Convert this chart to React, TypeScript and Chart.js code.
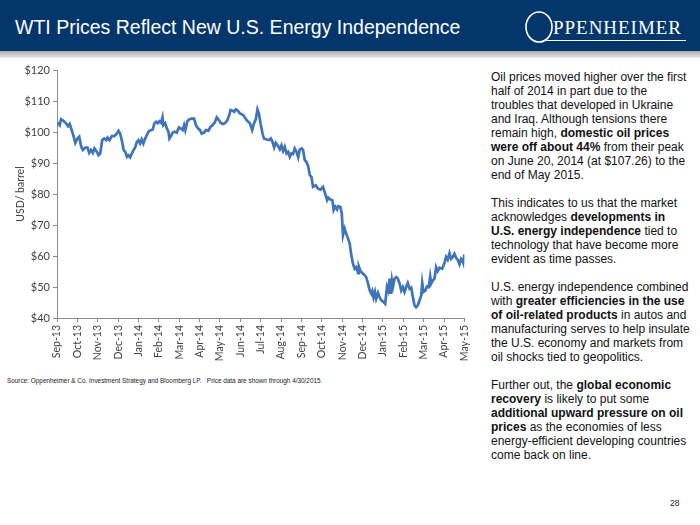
import React, { useEffect, useRef } from "react";
import { Chart, registerables } from "chart.js";

Chart.register(...registerables);

// Month tick labels (axis positions 0..20)
const monthLabels = [
  "Sep-13", "Oct-13", "Nov-13", "Dec-13", "Jan-14", "Feb-14", "Mar-14", "Apr-14",
  "May-14", "Jun-14", "Jul-14", "Aug-14", "Sep-14", "Oct-14", "Nov-14", "Dec-14",
  "Jan-15", "Feb-15", "Mar-15", "Apr-15", "May-15",
];

// Position in months since Sep-2013 (date of each observation)
const monthPos = [
  0.03, 0.13, 0.2, 0.33, 0.44, 0.54, 0.62, 0.69, 0.82, 0.9, 1.01, 1.09, 1.19, 1.27, 1.39, 1.5,
  1.58, 1.67, 1.76, 1.84, 1.96, 2.04, 2.12, 2.22, 2.32, 2.42, 2.48, 2.58, 2.69, 2.81, 2.91,
  3.02, 3.1, 3.18, 3.27, 3.35, 3.43, 3.51, 3.59, 3.67, 3.76, 3.84, 3.92, 4.0, 4.08, 4.16,
  4.24, 4.33, 4.41, 4.49, 4.6, 4.7, 4.78, 4.87, 4.95, 5.03, 5.11, 5.18, 5.22, 5.31, 5.39,
  5.47, 5.52, 5.58, 5.68, 5.78, 5.88, 5.99, 6.07, 6.17, 6.24, 6.3, 6.4, 6.5, 6.61, 6.73,
  6.82, 6.92, 7.02, 7.1, 7.22, 7.31, 7.43, 7.54, 7.64, 7.76, 7.84, 7.92, 8.03, 8.13, 8.24,
  8.36, 8.46, 8.52, 8.62, 8.7, 8.78, 8.87, 8.98, 9.14, 9.31, 9.47, 9.58, 9.67, 9.76, 9.84,
  9.91, 9.99, 10.09, 10.16, 10.29, 10.42, 10.5, 10.58, 10.66, 10.74, 10.86, 10.94, 11.02,
  11.1, 11.18, 11.27, 11.35, 11.43, 11.51, 11.59, 11.67, 11.76, 11.84, 11.92, 12.02, 12.08,
  12.16, 12.24, 12.33, 12.41, 12.49, 12.57, 12.7, 12.82, 12.93, 13.06, 13.14, 13.26, 13.32,
  13.42, 13.52, 13.58, 13.66, 13.75, 13.81, 13.91, 13.98, 14.04, 14.12, 14.2, 14.29, 14.37,
  14.45, 14.53, 14.61, 14.69, 14.78, 14.82, 14.89, 14.99, 15.1, 15.18, 15.27, 15.35, 15.43,
  15.48, 15.54, 15.61, 15.67, 15.76, 15.84, 15.92, 16.03, 16.11, 16.2, 16.26, 16.33, 16.38,
  16.44, 16.49, 16.57, 16.65, 16.73, 16.82, 16.9, 16.98, 17.06, 17.14, 17.22, 17.31, 17.39,
  17.47, 17.55, 17.63, 17.71, 17.8, 17.88, 17.93, 17.99, 18.09, 18.16, 18.25, 18.32, 18.37,
  18.45, 18.53, 18.61, 18.69, 18.78, 18.91, 19.02, 19.1, 19.18, 19.27, 19.35, 19.43, 19.51,
  19.59, 19.67, 19.76, 19.84, 19.9, 19.95, 20.0,
];

// WTI price, USD per barrel
const prices = [
  103.0, 102.2, 104.1, 103.5, 102.8, 101.9, 102.6, 101.2, 98.5, 96.5, 98.0, 98.5, 95.2, 94.2,
  95.0, 95.0, 93.3, 94.2, 93.3, 94.7, 93.6, 92.5, 93.0, 97.4, 97.9, 97.4, 98.2, 97.4, 98.7,
  98.7, 99.3, 100.4, 99.5, 97.4, 94.2, 93.6, 92.0, 92.5, 91.8, 93.0, 94.2, 95.0, 96.8, 97.4,
  96.3, 97.6, 96.3, 97.9, 99.0, 100.1, 100.6, 100.8, 102.8, 103.3, 102.8, 103.5, 103.0, 104.7,
  102.2, 102.8, 101.2, 100.1, 97.9, 98.5, 99.8, 100.1, 99.8, 101.5, 101.2, 100.6, 102.2,
  100.6, 103.5, 104.1, 104.3, 104.3, 102.2, 101.2, 100.6, 99.5, 99.8, 100.6, 100.4, 101.7,
  102.2, 103.3, 104.7, 104.1, 103.0, 102.6, 102.8, 103.8, 105.5, 107.1, 106.9, 106.5, 107.3,
  106.9, 106.0, 105.5, 103.8, 102.8, 100.6, 102.8, 104.1, 107.3, 106.0, 102.8, 99.5, 97.9,
  97.6, 97.4, 97.9, 96.8, 95.0, 96.5, 95.4, 94.4, 95.7, 93.9, 95.2, 93.1, 93.6, 92.0, 93.1,
  92.9, 94.7, 93.6, 91.8, 94.4, 94.7, 94.2, 91.0, 90.4, 89.0, 86.1, 85.5, 82.3, 82.8, 81.7,
  81.4, 82.3, 80.6, 78.0, 78.8, 78.2, 78.0, 74.8, 75.9, 75.0, 76.1, 75.9, 73.7, 66.7, 68.8,
  67.2, 65.6, 64.0, 60.2, 57.5, 55.9, 56.4, 54.5, 56.6, 55.3, 54.5, 53.8, 53.2, 51.1, 48.9,
  47.8, 48.7, 46.6, 48.4, 46.2, 48.1, 46.6, 45.7, 45.2, 44.6, 50.0, 48.9, 52.7, 47.8, 52.1,
  50.0, 52.7, 53.2, 52.7, 51.1, 48.9, 50.0, 48.4, 50.0, 51.3, 49.4, 49.8, 46.8, 44.1, 43.5,
  44.1, 45.7, 47.3, 51.3, 48.4, 48.9, 50.2, 50.0, 53.4, 51.1, 52.1, 52.7, 56.4, 55.1, 56.2,
  55.9, 57.7, 59.7, 58.8, 60.9, 59.1, 59.7, 60.7, 59.4, 58.8, 57.3, 59.1, 58.6, 57.7, 60.5,
];

const yMin = 40;
const yMax = 120;
const yStep = 10;

const TICK_FONT = { family: "Lato, 'Liberation Sans', sans-serif", size: 10.5 };
const AXIS_COLOR = "#8c8c8c";
const LABEL_COLOR = "#404040";

function PriceChart() {
  const ref = useRef<HTMLCanvasElement | null>(null);
  useEffect(() => {
    if (!ref.current) return;
    const points = monthPos.map((x, i) => ({ x, y: prices[i] }));
    const chart = new Chart(ref.current, {
      type: "line",
      data: {
        datasets: [
          {
            data: points,
            borderColor: "#3f74ba",
            borderWidth: 2.7,
            pointRadius: 0,
            tension: 0,
            fill: false,
          },
        ],
      },
      options: {
        animation: false,
        responsive: false,
        devicePixelRatio: 1,
        plugins: { legend: { display: false }, tooltip: { enabled: false } },
        layout: { padding: { left: 0, right: 15, top: 10, bottom: 0 } },
        scales: {
          x: {
            type: "linear",
            min: 0,
            max: monthLabels.length - 1,
            afterFit: (s: any) => {
              s.height = 52;
            },
            ticks: {
              stepSize: 1,
              autoSkip: false,
              maxRotation: 90,
              minRotation: 90,
              padding: 3,
              color: LABEL_COLOR,
              font: TICK_FONT,
              callback: (v: any) => monthLabels[Math.round(Number(v))] ?? "",
            },
            grid: { drawOnChartArea: false, tickLength: 4, color: AXIS_COLOR },
            border: { color: AXIS_COLOR },
          },
          y: {
            min: yMin,
            max: yMax,
            afterFit: (s: any) => {
              s.width = 57;
            },
            ticks: {
              stepSize: yStep,
              padding: 3,
              color: LABEL_COLOR,
              font: { family: TICK_FONT.family, size: 11 },
              callback: (v: any) => "$" + v,
            },
            grid: { drawOnChartArea: false, tickLength: 4, color: AXIS_COLOR },
            border: { color: AXIS_COLOR },
            title: {
              display: true,
              text: "USD/ barrel",
              color: LABEL_COLOR,
              font: TICK_FONT,
              padding: { top: 14, bottom: 0 },
            },
          },
        },
      },
    });
    return () => chart.destroy();
  }, []);
  return <canvas ref={ref} width={480} height={310} style={{ display: "block" }} />;
}

const B = ({ children }: { children: React.ReactNode }) => (
  <b style={{ fontWeight: 700 }}>{children}</b>
);

export default function App() {
  const sans = "'Liberation Sans', Arial, sans-serif";
  return (
    <div
      style={{
        position: "fixed",
        left: 0,
        top: 0,
        width: 700,
        height: 525,
        background: "#ffffff",
        overflow: "hidden",
        fontFamily: sans,
      }}
    >
      <div style={{ position: "absolute", left: 0, top: 0, width: 700, height: 51, background: "#03366b" }} />
      <div
        style={{
          position: "absolute",
          left: 0,
          top: 51,
          width: 700,
          height: 7,
          background: "linear-gradient(#a9a9a9, #e8e8e8)",
        }}
      />
      <div
        style={{
          position: "absolute",
          left: 15,
          top: 13,
          color: "#ffffff",
          fontSize: 19.5,
          lineHeight: "28px",
          whiteSpace: "nowrap",
        }}
      >
        WTI Prices Reflect New U.S. Energy Independence
      </div>
      <svg style={{ position: "absolute", left: 0, top: 0 }} width={700} height={51}>
        <ellipse cx={539} cy={27} rx={13} ry={15} fill="none" stroke="#ffffff" strokeWidth={1.6} />
        <text
          x={553}
          y={34}
          fill="#ffffff"
          fontFamily="'Liberation Serif', 'Times New Roman', serif"
          fontSize={19}
          textLength={128}
        >
          PPENHEIMER
        </text>
        <line x1={546} y1={40.5} x2={686} y2={40.5} stroke="#ffffff" strokeWidth={1} />
      </svg>

      <div style={{ position: "absolute", left: 0, top: 60 }}>
        <PriceChart />
      </div>

      <div
        style={{
          position: "absolute",
          left: 7,
          top: 376,
          fontSize: 6.4,
          lineHeight: "10px",
          color: "#222",
          whiteSpace: "pre",
        }}
      >
        {"Source: Oppenheimer & Co. Investment Strategy and Bloomberg LP.   Price data are shown through 4/30/2015."}
      </div>

      <div
        style={{
          position: "absolute",
          left: 491,
          top: 70,
          fontSize: 12,
          lineHeight: "14px",
          color: "#111",
          whiteSpace: "nowrap",
        }}
      >
        Oil prices moved higher over the first<br />
        half of 2014 in part due to the<br />
        troubles that developed in Ukraine<br />
        and Iraq. Although tensions there<br />
        remain high, <B>domestic oil prices</B><br />
        <B>were off about 44%</B> from their peak<br />
        on June 20, 2014 (at $107.26) to the<br />
        end of May 2015.<br />
        <br />
        This indicates to us that the market<br />
        acknowledges <B>developments in</B><br />
        <B>U.S. energy independence</B> tied to<br />
        technology that have become more<br />
        evident as time passes.<br />
        <br />
        U.S. energy independence combined<br />
        with <B>greater efficiencies in the use</B><br />
        <B>of oil-related products</B> in autos and<br />
        manufacturing serves to help insulate<br />
        the U.S. economy and markets from<br />
        oil shocks tied to geopolitics.<br />
        <br />
        Further out, the <B>global economic</B><br />
        <B>recovery</B> is likely to put some<br />
        <B>additional upward pressure on oil</B><br />
        <B>prices</B> as the economies of less<br />
        energy-efficient developing countries<br />
        come back on line.
      </div>

      <div
        style={{
          position: "absolute",
          left: 670,
          top: 497,
          fontSize: 8.5,
          lineHeight: "12px",
          color: "#222",
        }}
      >
        28
      </div>
    </div>
  );
}
